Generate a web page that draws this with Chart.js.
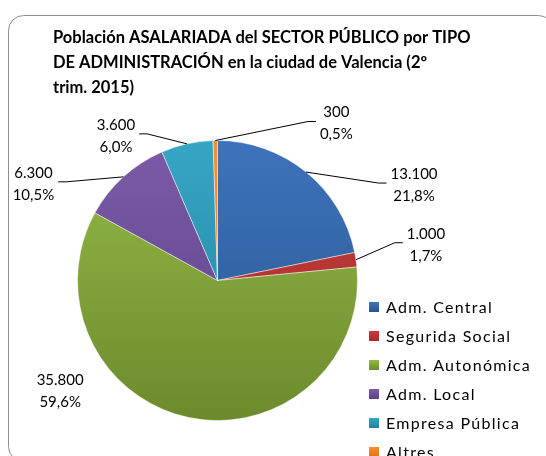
<!DOCTYPE html>
<html>
<head>
<meta charset="utf-8">
<script src="https://cdn.jsdelivr.net/npm/chart.js@4/dist/chart.umd.min.js"></script>
<style>
  html, body { margin: 0; padding: 0; background: #ffffff; }
  #wrap { position: relative; width: 546px; height: 456px; overflow: hidden; }
</style>
</head>
<body>
<div id="wrap"><canvas id="c" width="546" height="456"></canvas></div>
<script>
// ---- data ----
const titleLines = [
  "Población ASALARIADA del SECTOR PÚBLICO por TIPO",
  "DE ADMINISTRACIÓN en la ciudad de Valencia (2º",
  "trim. 2015)"
];
const categories = ["Adm. Central", "Segurida Social", "Adm. Autonómica", "Adm. Local", "Empresa Pública", "Altres"];
const values = [13100, 1000, 35800, 6300, 3600, 300];

// ---- styles (not data) ----
const sliceColors = [
  ["#3D73BB", "#2A558F"],
  ["#C63E3B", "#A22D2B"],
  ["#95BA48", "#6C8A2C"],
  ["#7B5BA7", "#5C4188"],
  ["#36A6C5", "#23809D"],
  ["#F78E30", "#DD7418"]
];
// label centre offset from the slice's outer mid point
const labelOffsets = [[108, 13], [70, -15], [-129, -26], [-90, 7], [-71, -8], [121, -17]];
const leaderLines = [true, true, false, true, true, true];

const total = values.reduce((a, b) => a + b, 0);
function fmtInt(v) { return String(v).replace(/\B(?=(\d{3})+(?!\d))/g, "."); }
function fmtPct(v) { return v.toFixed(1).replace(".", ",") + "%"; }

function gradFor(chart, i) {
  const ca = chart.chartArea;
  if (!ca) return sliceColors[i][0];
  const g = chart.ctx.createLinearGradient(0, ca.top, 0, ca.bottom);
  g.addColorStop(0, sliceColors[i][0]);
  g.addColorStop(1, sliceColors[i][1]);
  return g;
}

const framePlugin = {
  id: 'frame',
  beforeDraw(chart) {
    const ctx = chart.ctx;
    ctx.save();
    ctx.fillStyle = '#ffffff';
    ctx.fillRect(0, 0, chart.width, chart.height);
    ctx.strokeStyle = '#8e8e8e';
    ctx.lineWidth = 1;
    ctx.beginPath();
    ctx.roundRect(8.5, 15.5, 545, 446, 15);
    ctx.stroke();
    // title
    ctx.fillStyle = '#000000';
    ctx.font = 'bold 16.5px Lato';
    ctx.textBaseline = 'middle';
    ctx.textAlign = 'left';
    titleLines.forEach((t, k) => ctx.fillText(t, 53, 38 + k * 25));
    ctx.restore();
  }
};

const labelPlugin = {
  id: 'pieLabels',
  afterDatasetsDraw(chart) {
    const ctx = chart.ctx;
    const meta = chart.getDatasetMeta(0);
    ctx.save();
    ctx.font = '15px Lato';
    ctx.textBaseline = 'middle';
    ctx.textAlign = 'center';
    ctx.fillStyle = '#000000';
    ctx.strokeStyle = '#000000';
    ctx.lineWidth = 1;
    meta.data.forEach((arc, i) => {
      const p = arc.getProps(['x', 'y', 'startAngle', 'endAngle', 'outerRadius'], true);
      const mid = (p.startAngle + p.endAngle) / 2;
      const ax = p.x + Math.cos(mid) * p.outerRadius;
      const ay = p.y + Math.sin(mid) * p.outerRadius;
      const cx = ax + labelOffsets[i][0];
      const cy = ay + labelOffsets[i][1];
      const l1 = fmtInt(values[i]);
      const l2 = fmtPct(values[i] / total * 100);
      const w = Math.max(ctx.measureText(l1).width, ctx.measureText(l2).width);
      ctx.fillText(l1, cx, cy - 11);
      ctx.fillText(l2, cx, cy + 11);
      if (leaderLines[i]) {
        const side = labelOffsets[i][0] > 0 ? 1 : -1;
        const ex = cx - side * (w / 2 + 4);
        const ey = cy - 2;
        const bx = ex - side * 8;
        ctx.beginPath();
        ctx.moveTo(ax, ay);
        ctx.lineTo(bx, ey);
        ctx.lineTo(ex, ey);
        ctx.stroke();
      }
    });
    ctx.restore();
  },
  afterDraw(chart) {
    const ctx = chart.ctx;
    const ca = chart.chartArea;
    const lx = ca.right + 11;
    ctx.save();
    ctx.font = '16px Lato';
    ctx.letterSpacing = '1.3px';
    ctx.textBaseline = 'middle';
    ctx.textAlign = 'left';
    ctx.fillStyle = '#000000';
    categories.forEach((c, i) => {
      const y = 307 + i * 29;
      const g = ctx.createLinearGradient(0, y - 5, 0, y + 5);
      g.addColorStop(0, sliceColors[i][0]);
      g.addColorStop(1, sliceColors[i][1]);
      ctx.fillStyle = g;
      ctx.fillRect(lx, y - 5, 10, 10);
      ctx.fillStyle = '#000000';
      ctx.fillText(c, lx + 17, y + 1);
    });
    ctx.restore();
  }
};

new Chart(document.getElementById('c'), {
  type: 'pie',
  data: {
    labels: categories,
    datasets: [{
      data: values,
      backgroundColor: (ctx) => gradFor(ctx.chart, ctx.dataIndex),
      borderColor: 'rgba(255,255,255,0.45)',
      borderWidth: 1
    }]
  },
  options: {
    responsive: false,
    animation: false,
    devicePixelRatio: 1,
    layout: { padding: { left: 77, right: 188, top: 140, bottom: 35 } },
    plugins: {
      legend: { display: false },
      tooltip: { enabled: false },
      title: { display: false }
    }
  },
  plugins: [framePlugin, labelPlugin]
});
</script>
</body>
</html>
